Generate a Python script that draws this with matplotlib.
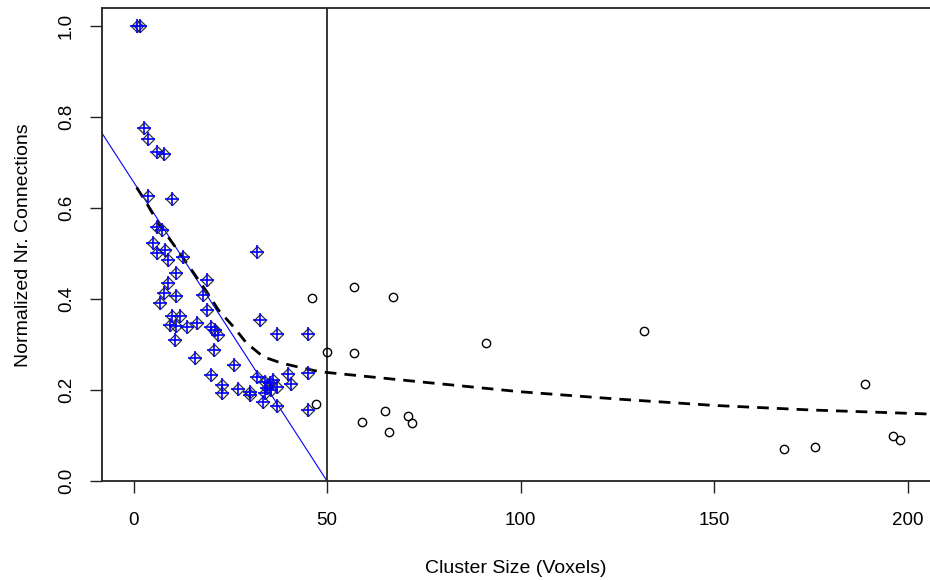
import matplotlib
matplotlib.use("Agg")
import matplotlib.pyplot as plt

plt.rcParams['font.family'] = ['Liberation Sans', 'DejaVu Sans']

# clusters below the size cut (blue diamond-plus markers)
small_x = [1.0, 1.6, 2.8, 3.8, 6.0, 8.0, 3.8, 9.9, 6.1, 7.3, 5.1, 8.1,
           6.0, 8.8, 12.9, 10.9, 9.0, 19.1, 7.9, 10.9, 6.8, 17.9, 19.0,
           9.9, 12.0, 9.4, 11.1, 13.7, 16.3, 10.7, 19.9, 21.0, 21.9, 20.7,
           16.0, 32.0, 32.6, 37.0, 45.1, 25.9, 19.9, 22.8, 22.8, 27.0,
           30.1, 30.1, 32.0, 33.9, 35.2, 36.1, 37.0, 33.9, 33.5, 37.0,
           39.9, 40.8, 45.1, 45.1, 34.6, 35.5]
small_y = [1.0, 1.0, 0.776, 0.751, 0.722, 0.719, 0.625, 0.620, 0.557, 0.552,
           0.522, 0.507, 0.500, 0.486, 0.493, 0.456, 0.436, 0.442, 0.412,
           0.407, 0.390, 0.409, 0.376, 0.363, 0.363, 0.343, 0.341, 0.338,
           0.347, 0.310, 0.338, 0.332, 0.320, 0.287, 0.270, 0.502, 0.354,
           0.323, 0.323, 0.255, 0.233, 0.211, 0.193, 0.201, 0.196, 0.189,
           0.229, 0.218, 0.215, 0.222, 0.207, 0.193, 0.174, 0.165, 0.235,
           0.213, 0.237, 0.156, 0.205, 0.200]

# larger clusters (open circles)
big_x = [46.1, 47.1, 49.9, 56.9, 56.9, 59.0, 67.0, 64.9, 65.9, 70.8, 71.9,
         91.0, 132.0, 168.1, 176.1, 189.0, 196.3, 198.0]
big_y = [0.402, 0.169, 0.284, 0.426, 0.281, 0.130, 0.404, 0.154, 0.108,
         0.143, 0.127, 0.303, 0.330, 0.070, 0.075, 0.213, 0.099, 0.090]

# fitted curve (dashed)
fit_x = [0.8, 3.4, 6.4, 10.3, 12.9, 18.9, 21.9, 25.8, 29.2, 33.5, 38.2,
         43.8, 48.1, 75, 100, 125, 150, 175, 206]
fit_y = [0.645, 0.610, 0.566, 0.520, 0.489, 0.416, 0.376, 0.339, 0.303,
         0.273, 0.259, 0.248, 0.240, 0.217, 0.196, 0.180, 0.166, 0.156, 0.147]

# linear fit (blue) and size threshold
lin_intercept = 0.657
lin_slope = -0.01314
cut = 50

fig = plt.figure(figsize=(9.3, 5.8), dpi=100)
ax = fig.add_axes([0.1097, 0.1707, 0.8903, 0.8147])

ax.axline((0, lin_intercept), slope=lin_slope, color='blue', lw=0.8, zorder=2)
ax.axvline(cut, color='black', lw=1.1, zorder=2)
ax.plot(fit_x, fit_y, color='black', lw=2.0, dashes=(4.2, 2.9), zorder=3)

ax.plot(small_x, small_y, 'D', ms=6.5, mfc='none', mec='#333333', mew=0.9, zorder=4)
ax.plot(small_x, small_y, '+', ms=10.5, color='blue', mew=1.2, zorder=5)
ax.plot(big_x, big_y, 'o', ms=6.0, mfc='none', mec='black', mew=1.0, zorder=4)

ax.set_xlim(-8.14, 205.8)
ax.set_ylim(0, 1.038)
ax.set_xticks([0, 50, 100, 150, 200])
ax.set_yticks([0.0, 0.2, 0.4, 0.6, 0.8, 1.0])
ax.set_yticklabels(['0.0', '0.2', '0.4', '0.6', '0.8', '1.0'], rotation=90, va='center')
ax.tick_params(length=8.5, width=1.0, labelsize=13.5, color='#222222')
ax.tick_params(axis='x', pad=14)
ax.tick_params(axis='y', pad=11)

for side in ['left', 'bottom', 'top']:
    ax.spines[side].set_linewidth(1.3)
    ax.spines[side].set_color('#222222')
ax.spines['right'].set_visible(False)

ax.set_xlabel('Cluster Size (Voxels)', fontsize=14, labelpad=22)
ax.set_ylabel('Normalized Nr. Connections', fontsize=14, labelpad=19)

fig.savefig('out.png', dpi=100)
